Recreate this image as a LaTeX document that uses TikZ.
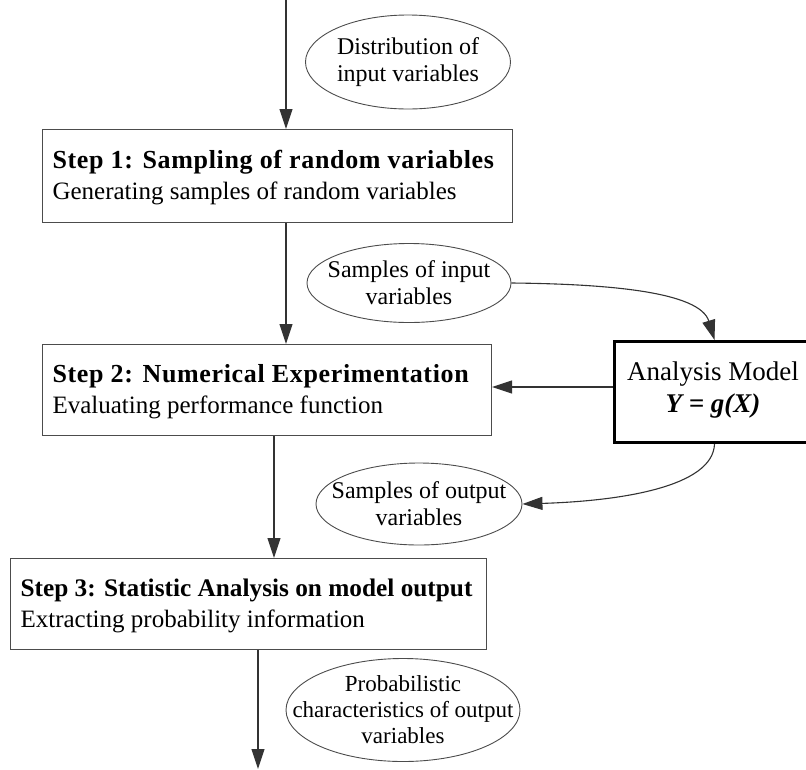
\documentclass[tikz,border=0pt]{standalone}
\usepackage{fontspec}
\setmainfont{Liberation Serif}
\usetikzlibrary{arrows.meta,shapes.geometric}
\begin{document}
\begin{tikzpicture}[x=1pt,y=-1pt,
  line width=1.1pt,
  arr/.style={draw=black!80,-{Triangle[length=20pt,width=13pt]}},
  stepbox/.style={draw=black!70,rectangle,inner sep=0pt,anchor=north west},
  head/.style={anchor=base west,inner sep=0pt,
    font=\fontsize{26}{30}\selectfont\bfseries\addfontfeature{LetterSpace=2.5}},
  tighthead/.style={anchor=base west,inner sep=0pt,
    font=\fontsize{25.3}{30}\selectfont\bfseries},
  desc/.style={anchor=base west,inner sep=0pt,font=\fontsize{25}{30}\selectfont},
  oval/.style={draw=black!70,ellipse,inner sep=0pt,line width=0.9pt},
  ovaltext/.style={inner sep=0pt,align=center,font=\fontsize{24}{27}\selectfont},
  modelbox/.style={draw=black,rectangle,line width=3pt,inner sep=0pt,anchor=north west},
  modeltext/.style={anchor=base,inner sep=0pt,font=\fontsize{27}{32}\selectfont}]
\useasboundingbox (0,0) rectangle (806,769);

% process steps
\node[stepbox,minimum width=470,minimum height=93] (s1) at (42,129) {};
\node[head] (s1h) at (52,168) {Step 1: Sampling of random variables};
\node[desc] (s1d) at (52,199) {Generating samples of random variables};

\node[stepbox,minimum width=449,minimum height=91] (s2) at (42,344) {};
\node[head] (s2h) at (52,382) {Step 2: Numerical Experimentation};
\node[desc] (s2d) at (52,413) {Evaluating performance function};

\node[stepbox,minimum width=476,minimum height=91] (s3) at (10,558) {};
\node[tighthead] (s3h) at (20,596) {Step 3: Statistic Analysis on model output};
\node[desc] (s3d) at (20,627) {Extracting probability information};

% analysis model
\node[modelbox,minimum width=200,minimum height=101] (am) at (613,340) {};
\node[modeltext] (amt) at (713,380) {Analysis Model};
\node[modeltext] (amf) at (713,412) {\textbf{\textit{Y = g(X)}}};

% data ellipses
\node[oval,minimum width=205,minimum height=94] (e1) at (408,62) {};
\node[ovaltext] (e1t) at (e1) {Distribution of\\input variables};
\node[oval,minimum width=204,minimum height=79] (e2) at (409,283) {};
\node[ovaltext] (e2t) at (e2) {Samples of input\\variables};
\node[oval,minimum width=206,minimum height=82] (e3) at (419,504) {};
\node[ovaltext] (e3t) at (e3) {Samples of output\\variables};
\node[oval,minimum width=234,minimum height=103] (e4) at (403,710) {};
\node[ovaltext,font=\fontsize{23}{26}\selectfont] (e4t) at (e4) {Probabilistic\\characteristics of output\\variables};

% main flow
\coordinate (in) at (286,0);
\coordinate (mid) at (274,0);
\coordinate (out) at (258,769);
\draw[arr] (in) -- (in |- s1.north);
\draw[arr] (s1.south -| in) -- (s2.north -| in);
\draw[arr] (s2.south -| mid) -- (s3.north -| mid);
\draw[arr] (out |- s3.south) -- (out);

% model loop
\draw[arr] ([yshift=5pt]am.west) -- ([yshift=5pt]am.west -| s2.east);
\draw[arr] (e2.east) .. controls (610,284) and (700,292) .. (am.north);
\draw[arr] (am.south) .. controls (713,487) and (620,501) .. (e3.east);
\end{tikzpicture}
\end{document}
